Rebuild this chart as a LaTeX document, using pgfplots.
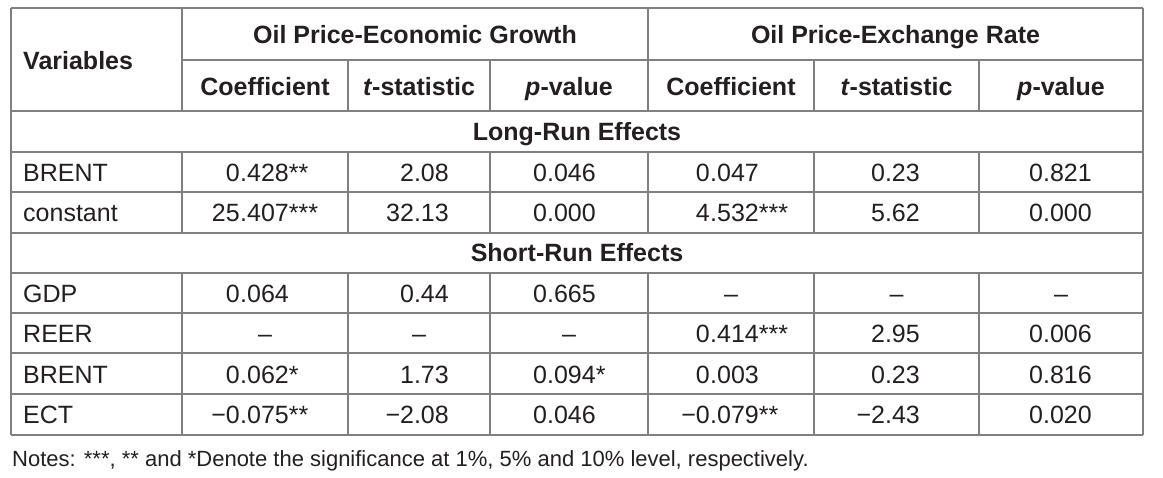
\documentclass[border=0pt]{standalone}
\usepackage{pgfplots}
\pgfplotsset{compat=1.18}
\usepackage{fontspec}
\setmainfont{Liberation Sans}
\definecolor{txt}{HTML}{231F20}
\definecolor{rule}{HTML}{808080}
\newcommand{\cR}[3]{\node[anchor=base east,inner sep=0pt] at (axis cs:#1,#2) {#3};}
\newcommand{\cL}[3]{\node[anchor=base west,inner sep=0pt] at (axis cs:#1,#2) {#3};}
\newcommand{\cC}[3]{\node[anchor=base,inner sep=0pt] at (axis cs:#1,#2) {#3};}
\newcommand{\cD}[4]{\cR{#1}{#2}{#3}\cL{#1}{#2}{#4}}
\newcommand{\dash}{\textendash}
\begin{document}
\begin{tikzpicture}
\begin{axis}[
  width=1163pt, height=477pt, scale only axis,
  xmin=0, xmax=1163, ymin=0, ymax=477, y dir=reverse,
  hide axis, clip=false,
  gl/.style={draw=rule, line width=1.3pt, mark=none, solid},
]
\path (axis cs:0,0) rectangle (axis cs:1163,477);
% horizontal rules
\addplot[gl] coordinates {(11,8) (1143,8)};
\addplot[gl] coordinates {(182,60) (1143,60)};
\addplot[gl] coordinates {(11,111) (1143,111)};
\addplot[gl] coordinates {(11,152) (1143,152)};
\addplot[gl] coordinates {(11,192) (1143,192)};
\addplot[gl] coordinates {(11,233) (1143,233)};
\addplot[gl] coordinates {(11,273) (1143,273)};
\addplot[gl] coordinates {(11,313) (1143,313)};
\addplot[gl] coordinates {(11,353) (1143,353)};
\addplot[gl] coordinates {(11,394) (1143,394)};
\addplot[gl] coordinates {(11,435) (1143,435)};
% outer verticals
\addplot[gl] coordinates {(11,8) (11,435)};
\addplot[gl] coordinates {(1143,8) (1143,435)};
% inner verticals: header
\addplot[gl] coordinates {(182,8) (182,111)};
\addplot[gl] coordinates {(648,8) (648,111)};
\addplot[gl] coordinates {(348,60) (348,111)};
\addplot[gl] coordinates {(490,60) (490,111)};
\addplot[gl] coordinates {(814,60) (814,111)};
\addplot[gl] coordinates {(979,60) (979,111)};
% inner verticals: long-run block
\addplot[gl] coordinates {(182,152) (182,233)};
\addplot[gl] coordinates {(348,152) (348,233)};
\addplot[gl] coordinates {(490,152) (490,233)};
\addplot[gl] coordinates {(648,152) (648,233)};
\addplot[gl] coordinates {(814,152) (814,233)};
\addplot[gl] coordinates {(979,152) (979,233)};
% inner verticals: short-run block
\addplot[gl] coordinates {(182,273) (182,435)};
\addplot[gl] coordinates {(348,273) (348,435)};
\addplot[gl] coordinates {(490,273) (490,435)};
\addplot[gl] coordinates {(648,273) (648,435)};
\addplot[gl] coordinates {(814,273) (814,435)};
\addplot[gl] coordinates {(979,273) (979,435)};

\begin{scope}[every node/.append style={text=txt, font=\fontsize{25}{29}\selectfont}]
% headers
\cL{23}{69}{\bfseries Variables}
\cC{415}{43}{\bfseries Oil Price-Economic Growth}
\cC{895.5}{43}{\bfseries Oil Price-Exchange Rate}
\cC{265}{95}{\bfseries Coefficient}
\cC{419}{95}{\bfseries\textit{t}-statistic}
\cC{569}{95}{\bfseries\textit{p}-value}
\cC{731}{95}{\bfseries Coefficient}
\cC{896.5}{95}{\bfseries\textit{t}-statistic}
\cC{1061}{95}{\bfseries\textit{p}-value}
\cC{577}{140}{\bfseries Long-Run Effects}
\cC{577}{261}{\bfseries Short-Run Effects}
% row labels
\cL{23}{181.5}{BRENT}
\cL{23}{221.5}{constant}
\cL{23}{302.5}{GDP}
\cL{23}{342.5}{REER}
\cL{23}{383}{BRENT}
\cL{23}{423}{ECT}
% BRENT long-run
\cD{240}{181.5}{0}{.428**}
\cR{449}{181.5}{2.08}
\cL{533}{181.5}{0.046}
\cD{710}{181.5}{0}{.047}
\cR{920}{181.5}{0.23}
\cL{1029}{181.5}{0.821}
% constant
\cD{240}{221.5}{25}{.407***}
\cR{449}{221.5}{32.13}
\cL{533}{221.5}{0.000}
\cD{710}{221.5}{4}{.532***}
\cR{920}{221.5}{5.62}
\cL{1029}{221.5}{0.000}
% GDP
\cD{240}{302.5}{0}{.064}
\cR{449}{302.5}{0.44}
\cL{533}{302.5}{0.665}
\cC{731}{302.5}{\dash}
\cC{896.5}{302.5}{\dash}
\cC{1061}{302.5}{\dash}
% REER
\cC{265}{342.5}{\dash}
\cC{419}{342.5}{\dash}
\cC{569}{342.5}{\dash}
\cD{710}{342.5}{0}{.414***}
\cR{920}{342.5}{2.95}
\cL{1029}{342.5}{0.006}
% BRENT short-run
\cD{240}{383}{0}{.062*}
\cR{449}{383}{1.73}
\cL{533}{383}{0.094*}
\cD{710}{383}{0}{.003}
\cR{920}{383}{0.23}
\cL{1029}{383}{0.816}
% ECT
\cD{240}{423}{−0}{.075**}
\cR{449}{423}{−2.08}
\cL{533}{423}{0.046}
\cD{710}{423}{−0}{.079**}
\cR{920}{423}{−2.43}
\cL{1029}{423}{0.020}
% notes
\node[anchor=base west,inner sep=0pt,font=\fontsize{22}{26}\selectfont] at (axis cs:12,466) {Notes: ***, ** and *Denote the significance at 1\%, 5\% and 10\% level, respectively.};
\end{scope}
\end{axis}
\end{tikzpicture}
\end{document}
